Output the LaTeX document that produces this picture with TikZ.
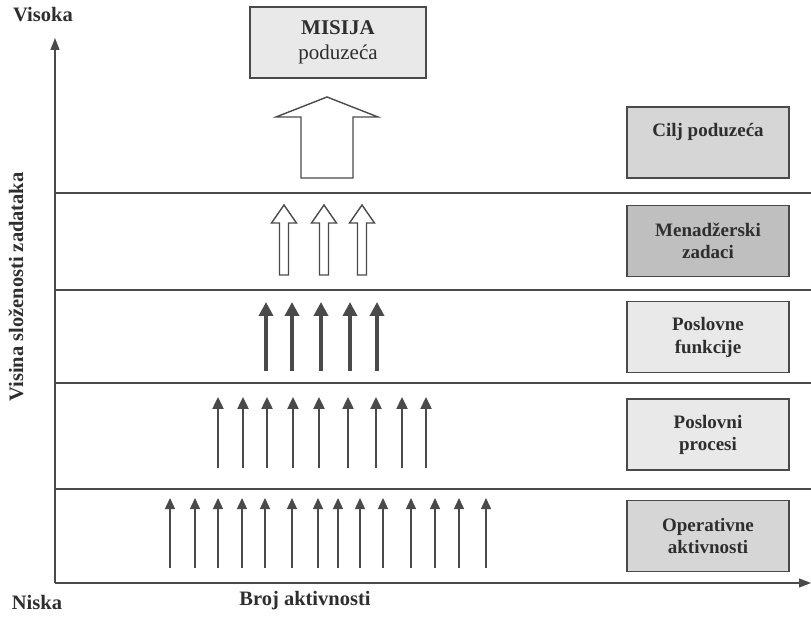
\documentclass[tikz,border=0pt]{standalone}
\usepackage{fontspec}
\setmainfont{Liberation Serif}
\usetikzlibrary{positioning}
\usetikzlibrary{arrows.meta}

\definecolor{lineGray}{HTML}{4A4A4A}
\definecolor{textGray}{HTML}{2E2E2E}
\definecolor{boxLight}{HTML}{E9E9E9}
\definecolor{boxMid}{HTML}{D6D6D6}
\definecolor{boxDark}{HTML}{BFBFBF}

% hollow block arrow: x, bottom, head base, tip, half shaft, half head
\newcommand{\hollowArrow}[6]{%
  \draw[hollow] (#1-#5,#2) -- (#1-#5,#3) -- (#1-#6,#3) -- (#1,#4)
    -- (#1+#6,#3) -- (#1+#5,#3) -- (#1+#5,#2) -- cycle;}

\begin{document}
\begin{tikzpicture}[x=1pt,y=1pt,color=lineGray,
	box/.style={draw,line width=1.4pt,minimum width=162pt,minimum height=71pt,
		align=center,text=textGray,font=\fontsize{19}{22.5}\selectfont\bfseries},
	axis label/.style={text=textGray,font=\fontsize{20.5}{24}\selectfont\bfseries},
	level line/.style={line width=1.3pt},
	op arrow/.style={-{Triangle[length=11pt,width=10pt]},line width=1.4pt},
	proc arrow/.style={-{Triangle[length=12pt,width=11pt]},line width=2.4pt},
	func arrow/.style={-{Triangle[length=14pt,width=14pt]},line width=4pt},
	hollow/.style={line width=1.4pt,fill=white,line join=miter}]

	\useasboundingbox (0,0) rectangle (811,616);

	% axes
	\coordinate (origin) at (55,33);
	\coordinate (ytop) at (55,578);
	\coordinate (xend) at (811,33);
	\draw[line width=1.3pt,-{Triangle[length=12pt,width=9pt]}] (origin) -- (ytop);
	\draw[line width=1.3pt,-{Triangle[length=12pt,width=9pt]}] (origin) -- (xend);

	% levels
	\draw[level line] (55,127) -- (811,127);
	\draw[level line] (55,233) -- (811,233);
	\draw[level line] (55,326) -- (811,326);
	\draw[level line] (55,423) -- (811,423);

	\node[axis label] (visoka) at (43,601) {Visoka};
	\node[axis label] (niska) at (37,14) {Niska};
	\node[axis label] (broj) at (305,15) {Broj aktivnosti};
	\node[axis label,rotate=90] (visina) at (16,329) {Visina složenosti zadataka};

	\node[box,fill=boxLight,minimum width=176pt,font=\fontsize{21}{25}\selectfont]
		(misija) at (338,573.5) {\textbf{MISIJA}\\poduzeća};

	\node[box,fill=boxMid] (cilj) at (708,473.5) {Cilj poduzeća\\[-4pt]\strut};
	\node[box,fill=boxDark] (menadz) [below=26pt of cilj] {Menadžerski\\zadaci};
	\node[box,fill=boxLight] (funkcije) [below=24pt of menadz] {Poslovne\\funkcije};
	\node[box,fill=boxLight] (procesi) [below=25pt of funkcije] {Poslovni\\procesi};
	\node[box,fill=boxMid] (operativne) [below=29pt of procesi] {Operativne\\aktivnosti};

	% mission and managerial arrows
	\hollowArrow{327}{438}{499}{519}{26}{51}
	\hollowArrow{284}{341}{393}{411}{4.5}{12.5}
	\hollowArrow{324}{341}{393}{411}{4.5}{12.5}
	\hollowArrow{362}{341}{393}{411}{4.5}{12.5}

	% business functions
	\path[func arrow] (266,245) edge (266,314) (292,245) edge (292,314)
		(321,245) edge (321,314) (350,245) edge (350,314) (377,245) edge (377,314);

	% business processes
	\path[proc arrow] (218,148) edge (218,219) (243,148) edge (243,219)
		(267,148) edge (267,219) (293,148) edge (293,219) (319,148) edge (319,219)
		(348,148) edge (348,219) (376,148) edge (376,219) (402,148) edge (402,219)
		(426,148) edge (426,219);

	% operative activities
	\path[op arrow] (170,48) edge (170,118) (195,48) edge (195,118)
		(218,48) edge (218,118) (242,48) edge (242,118) (265,48) edge (265,118)
		(292,48) edge (292,118) (318,48) edge (318,118) (338,48) edge (338,118)
		(360,48) edge (360,118) (383,48) edge (383,118) (411,48) edge (411,118)
		(435,48) edge (435,118) (459,48) edge (459,118) (486,48) edge (486,118);
\end{tikzpicture}
\end{document}
